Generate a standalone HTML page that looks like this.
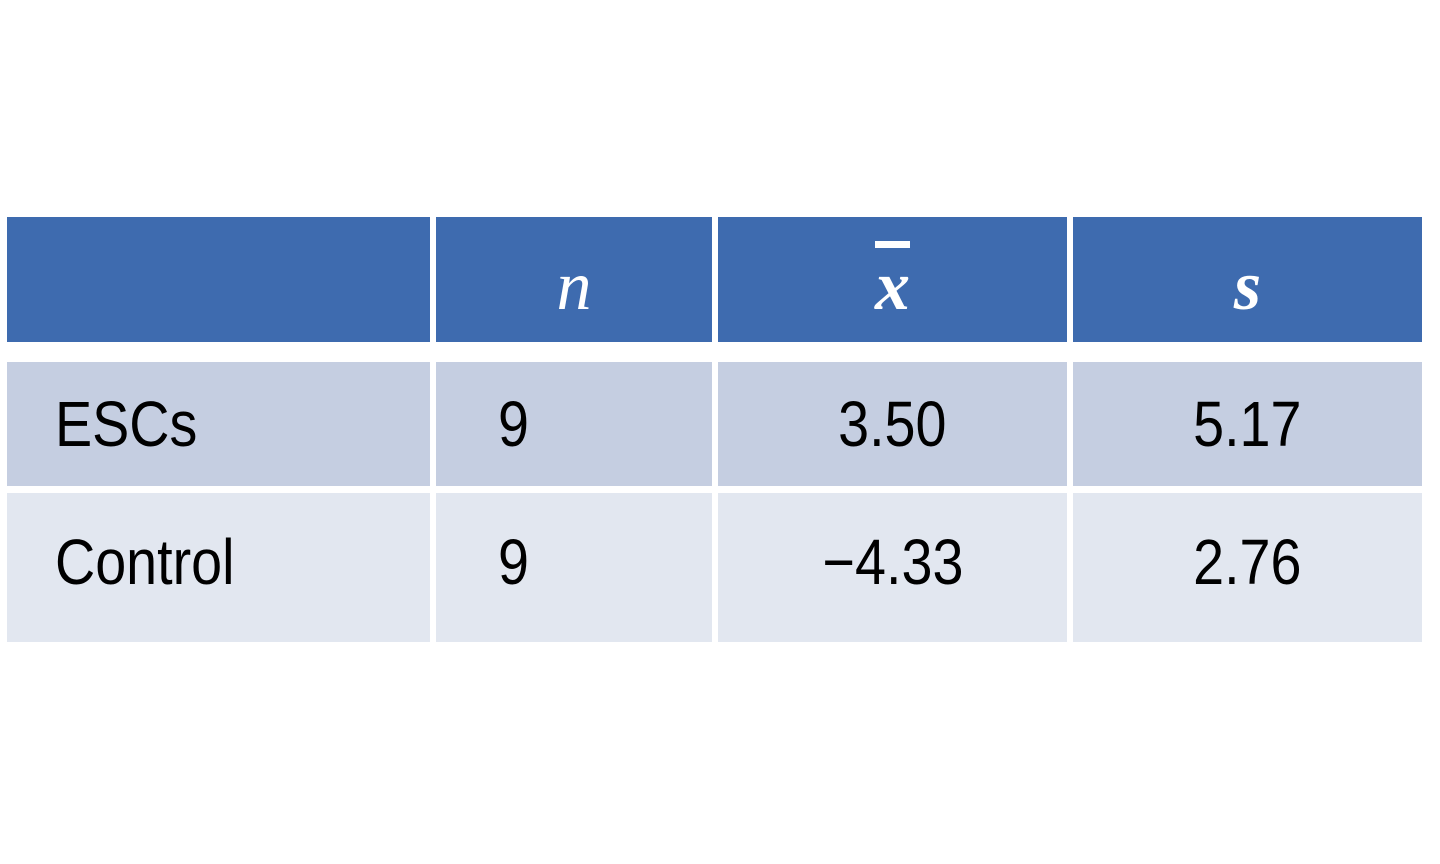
<!DOCTYPE html>
<html><head><meta charset="utf-8"><style>
html,body{margin:0;padding:0;background:#fff;width:1440px;height:864px;overflow:hidden}
.c{position:absolute;display:flex;align-items:center;box-sizing:border-box;font-family:"Liberation Sans",sans-serif;font-size:64px;color:#000}
.c span.t{display:inline-block;transform:scaleX(0.87)}
.l span.t{transform-origin:left center}
.h{background:#3e6baf;color:#fff;justify-content:center;font-family:"Liberation Serif",serif;font-style:italic;font-size:70px;padding-top:14px}
.r1{background:#c5cee1}
.r2{background:#e2e7f0;padding-bottom:12px}
</style></head><body>
<div>
<div class="c h" style="left:7px;top:217px;width:423px;height:125px"></div>
<div class="c h" style="left:436px;top:217px;width:276px;height:125px">n</div>
<div class="c h" style="left:718px;top:217px;width:349px;height:125px"><span style="text-decoration:overline;font-weight:bold">x</span></div>
<div class="c h" style="left:1073px;top:217px;width:349px;height:125px;font-weight:bold">s</div>

<div class="c r1 l" style="left:7px;top:362px;width:423px;height:124px;padding-left:48px"><span class="t">ESCs</span></div>
<div class="c r1 l" style="left:436px;top:362px;width:276px;height:124px;padding-left:62px"><span class="t">9</span></div>
<div class="c r1" style="left:718px;top:362px;width:349px;height:124px;justify-content:center"><span class="t">3.50</span></div>
<div class="c r1" style="left:1073px;top:362px;width:349px;height:124px;justify-content:center"><span class="t">5.17</span></div>

<div class="c r2 l" style="left:7px;top:493px;width:423px;height:149px;padding-left:48px"><span class="t">Control</span></div>
<div class="c r2 l" style="left:436px;top:493px;width:276px;height:149px;padding-left:62px"><span class="t">9</span></div>
<div class="c r2" style="left:718px;top:493px;width:349px;height:149px;justify-content:center"><span class="t">−4.33</span></div>
<div class="c r2" style="left:1073px;top:493px;width:349px;height:149px;justify-content:center"><span class="t">2.76</span></div>
</div>
</body></html>
